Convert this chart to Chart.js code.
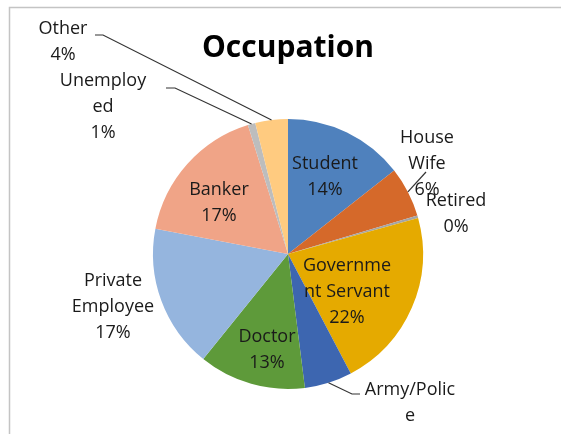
<!DOCTYPE html>
<html>
<head>
<meta charset="utf-8">
<script src="https://cdn.jsdelivr.net/npm/chart.js@4/dist/chart.umd.min.js"></script>
<style>
  html, body { margin: 0; padding: 0; background: #fff; }
  #wrap { width: 561px; height: 434px; }
</style>
</head>
<body>
<div id="wrap"><canvas id="chart-occupation" width="561" height="434"></canvas></div>
<script>
// --- dados do gráfico ---
const categories = ['Student', 'House Wife', 'Retired', 'Government Servant', 'Army/Police',
                    'Doctor', 'Private Employee', 'Banker', 'Unemployed', 'Other'];
const shares = [14.4, 6.0, 0.3, 21.6, 5.7, 12.8, 17.2, 17.2, 0.9, 3.9];
// como o Excel quebrou os rótulos
const labelLines = [['Student'], ['House', 'Wife'], ['Retired'], ['Governme', 'nt Servant'],
                    ['Army/Polic', 'e'], ['Doctor'], ['Private', 'Employee'], ['Banker'],
                    ['Unemploy', 'ed'], ['Other']];

// --- estilo ---
const sliceColors = ['#4F81BD', '#D5692A', '#A5A5A5', '#E5AA00', '#3D66B0',
                     '#5E9A3A', '#95B5DE', '#F0A487', '#BDBDBD', '#FFCB80'];
// centro do bloco de texto, relativo ao centro da pizza (px)
const labelOffsets = [[37, -77], [139, -90], [168, -40], [59, 38], [122, 162],
                      [-21, 96], [-175, 53], [-69, -51], [-185, -147], [-225, -212]];
// linhas de chamada: pontos relativos ao centro (o primeiro ponto vem do arco)
const leaders = {
    1: [[138, -82]],
    4: [[64, 140], [72, 140]],
    8: [[-113, -166], [-122, -166]],
    9: [[-185, -219], [-193, -219]]
};
const LINE_H = 26;

const frameAndLabels = {
    id: 'frameAndLabels',
    beforeDraw(chart) {
        const ctx = chart.ctx;
        ctx.save();
        ctx.strokeStyle = '#C4C4C4';
        ctx.lineWidth = 1.5;
        ctx.strokeRect(9.5, 7.5, 700, 600);
        ctx.restore();
    },
    afterDatasetsDraw(chart) {
        const ctx = chart.ctx;
        const arcs = chart.getDatasetMeta(0).data;
        const cx = arcs[0].x, cy = arcs[0].y;
        ctx.save();
        // linhas de chamada
        ctx.strokeStyle = '#333333';
        ctx.lineWidth = 1.2;
        Object.keys(leaders).forEach(k => {
            const arc = arcs[k];
            const mid = (arc.startAngle + arc.endAngle) / 2;
            ctx.beginPath();
            ctx.moveTo(cx + Math.cos(mid) * arc.outerRadius, cy + Math.sin(mid) * arc.outerRadius);
            leaders[k].forEach(p => ctx.lineTo(cx + p[0], cy + p[1]));
            ctx.stroke();
        });
        // textos
        ctx.fillStyle = '#1A1A1A';
        ctx.font = '18px "Open Sans"';
        ctx.textAlign = 'center';
        ctx.textBaseline = 'middle';
        categories.forEach((c, i) => {
            const lines = labelLines[i].concat([Math.round(shares[i]) + '%']);
            const bx = cx + labelOffsets[i][0];
            const by = cy + labelOffsets[i][1];
            lines.forEach((t, j) => {
                ctx.fillText(t, bx, by + (j - (lines.length - 1) / 2) * LINE_H);
            });
        });
        ctx.restore();
    }
};

new Chart(document.getElementById('chart-occupation'), {
    type: 'pie',
    data: {
        labels: categories,
        datasets: [{
            data: shares,
            backgroundColor: sliceColors,
            borderWidth: 0
        }]
    },
    options: {
        responsive: false,
        animation: false,
        layout: { padding: { left: 153, right: 138, top: 10, bottom: 45 } },
        plugins: {
            legend: { display: false },
            tooltip: { enabled: false },
            title: {
                display: true,
                text: 'Occupation',
                color: '#000',
                font: { family: '"Open Sans"', size: 30, weight: 'bold', lineHeight: 1.2 },
                padding: { top: 20, bottom: 53 }
            }
        }
    },
    plugins: [frameAndLabels]
});
</script>
</body>
</html>
